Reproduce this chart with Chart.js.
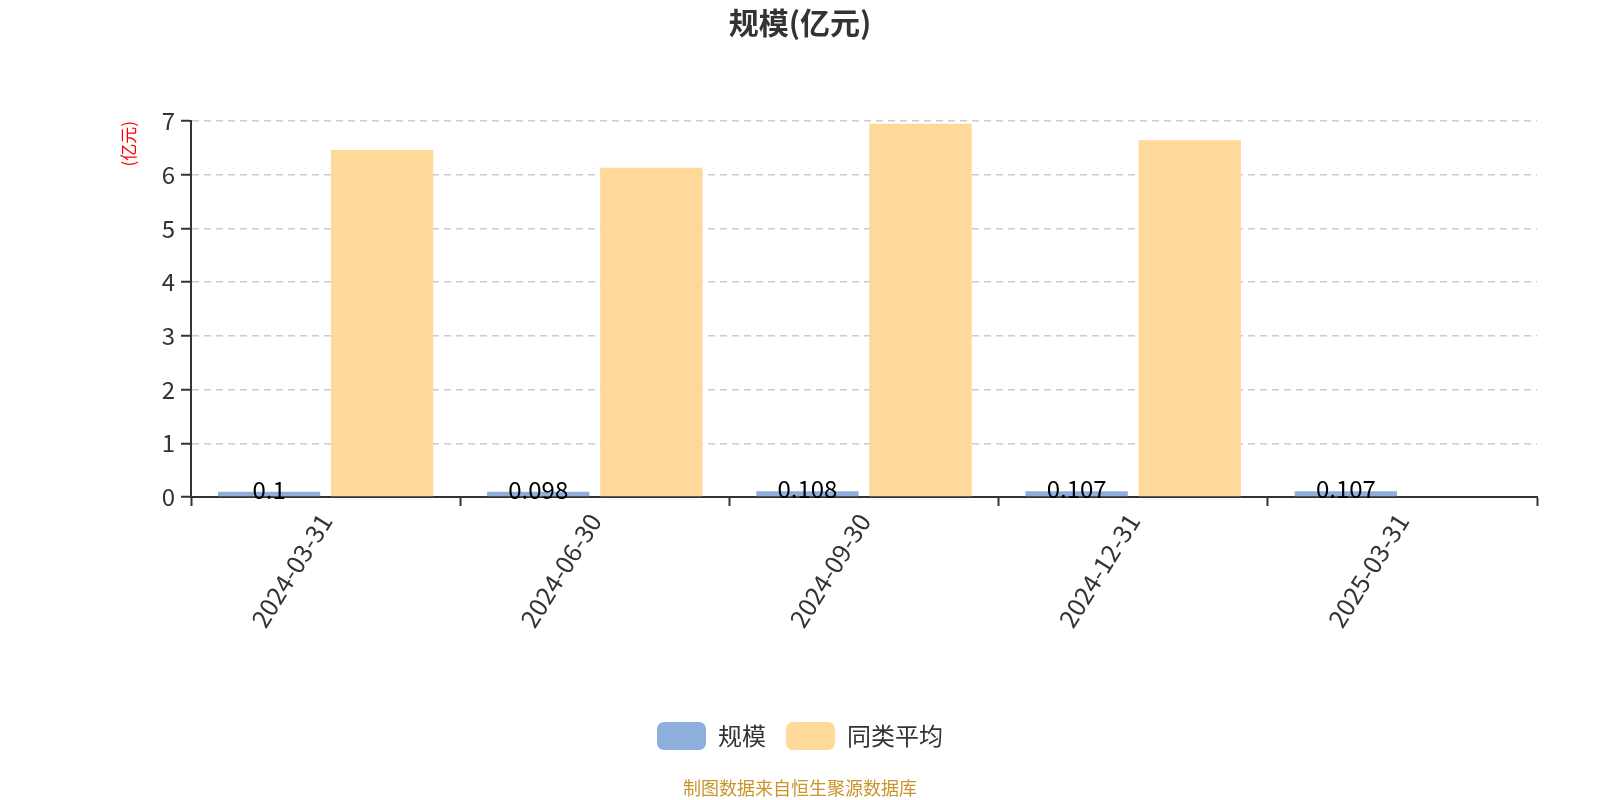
<!DOCTYPE html>
<html>
<head>
<meta charset="utf-8">
<title>规模(亿元)</title>
<script src="https://cdn.jsdelivr.net/npm/chart.js@4.4.1/dist/chart.umd.min.js"></script>
<style>
  html, body { margin: 0; padding: 0; background: #fff; }
  #wrap { width: 1600px; height: 800px; }
</style>
</head>
<body>
<div id="wrap"><canvas id="scaleChart"></canvas></div>
<script>
// data
var categories = ["2024-03-31", "2024-06-30", "2024-09-30", "2024-12-31", "2025-03-31"];
var scaleValues = [0.1, 0.098, 0.108, 0.107, 0.107];
var peerAverage = [6.46, 6.13, 6.95, 6.64, null];
var yTicks = [0, 1, 2, 3, 4, 5, 6, 7];

var FONT = "'Noto Sans CJK SC', 'Noto Sans', sans-serif";

// value labels on the 规模 bars
var barLabels = {
  id: "barLabels",
  afterDatasetsDraw: function (chart) {
    var ctx = chart.ctx;
    var meta = chart.getDatasetMeta(0);
    ctx.save();
    ctx.font = "24px " + FONT;
    ctx.fillStyle = "#000";
    ctx.textAlign = "center";
    ctx.textBaseline = "middle";
    meta.data.forEach(function (bar, i) {
      if (scaleValues[i] == null) return;
      ctx.fillText(String(scaleValues[i]), bar.x, bar.y - 2);
    });
    ctx.restore();
  },
};

// source note under the legend
var sourceNote = {
  id: "sourceNote",
  afterDraw: function (chart) {
    var ctx = chart.ctx;
    ctx.save();
    ctx.font = "18px " + FONT;
    ctx.fillStyle = "#c9952b";
    ctx.textAlign = "center";
    ctx.textBaseline = "middle";
    ctx.fillText("制图数据来自恒生聚源数据库", chart.width / 2, 788);
    ctx.restore();
  },
};

new Chart(document.getElementById("scaleChart").getContext("2d"), {
  type: "bar",
  data: {
    labels: categories,
    datasets: [
      {
        label: "规模",
        data: scaleValues,
        backgroundColor: "#8eaedb",
        categoryPercentage: 0.84,
        barPercentage: 0.905,
      },
      {
        label: "同类平均",
        data: peerAverage,
        backgroundColor: "#fed99a",
        categoryPercentage: 0.84,
        barPercentage: 0.905,
      },
    ],
  },
  options: {
    responsive: true,
    maintainAspectRatio: false,
    animation: false,
    layout: {
      padding: { left: 63, right: 63, top: 0, bottom: 40 },
    },
    plugins: {
      title: {
        display: true,
        text: "规模(亿元)",
        color: "#333",
        font: { family: FONT, size: 30, weight: "bold" },
        padding: { top: 5, bottom: 80 },
      },
      legend: {
        position: "bottom",
        labels: {
          color: "#333",
          font: { family: FONT, size: 24 },
          boxWidth: 49,
          boxHeight: 28,
          useBorderRadius: true,
          borderRadius: 7,
          padding: 20,
        },
      },
      tooltip: { enabled: false },
    },
    scales: {
      x: {
        offset: true,
        afterFit: function (axis) {
          axis.height = 205;
        },
        grid: {
          offset: true,
          drawOnChartArea: false,
          drawTicks: true,
          tickLength: 9,
          tickColor: "#333",
          tickWidth: 2,
        },
        border: { color: "#333", width: 2 },
        ticks: {
          color: "#333",
          font: { family: FONT, size: 25 },
          minRotation: 58,
          maxRotation: 58,
          padding: 2,
        },
      },
      y: {
        min: 0,
        max: 7,
        afterBuildTicks: function (axis) {
          axis.ticks = yTicks.map(function (v) { return { value: v }; });
        },
        afterFit: function (axis) {
          axis.width = 128;
        },
        grid: {
          color: "#cccccc",
          lineWidth: 1.5,
          tickLength: 10,
          tickColor: "#333",
          tickWidth: 2,
        },
        border: { color: "#333", width: 2, dash: [7, 5] },
        ticks: {
          color: "#333",
          font: { family: FONT, size: 24 },
          padding: 6,
        },
        title: {
          display: true,
          text: "(亿元)",
          align: "end",
          color: "#ff0000",
          font: { family: FONT, size: 17 },
          padding: { top: 55, bottom: 0 },
        },
      },
    },
  },
  plugins: [barLabels, sourceNote],
});
</script>
</body>
</html>
